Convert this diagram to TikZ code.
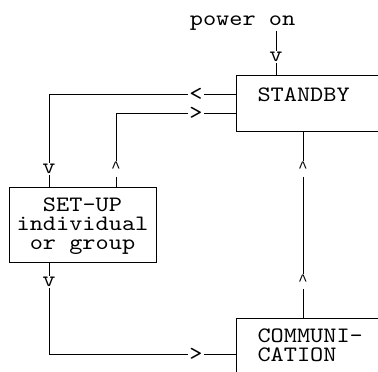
\documentclass[tikz,border=0pt]{standalone}
\usepackage{fontspec}
\usepackage{tikz}
\newfontfamily\asciiface{lmmono10-regular.otf}[FakeStretch=1.14]
\newfontfamily\caretface{Liberation Mono}
\newcommand{\asciifont}{\asciiface\fontsize{22}{18.6}\selectfont}
\newcommand{\caret}{\raisebox{-5pt}[6.5pt][0pt]{\caretface\fontsize{16}{16}\selectfont\textasciicircum}}

\begin{document}
\begin{tikzpicture}[x=1pt, y=-1pt, line width=1pt,
    box/.style={draw, anchor=north west, inner sep=0},
    txt/.style={font=\asciifont, inner sep=0},
    tip/.style={font=\asciifont, inner sep=0, outer sep=1.5pt},
    up/.style={inner sep=0, outer sep=0}]
    \useasboundingbox (0,0) rectangle (378,372);
    \clip (0,0) rectangle (378,372);
    % states
    \node[box, minimum width=200, minimum height=56] (standby) at (236,75) {};
    \node[box, minimum width=147, minimum height=75] (setup) at (9,187) {};
    \node[box, minimum width=200, minimum height=80] (comm) at (236,318) {};
    \node[txt, anchor=base west] (standbylbl) at (257,101) {STANDBY};
    \node[txt, anchor=base, align=center] (setuplbl) at (82.5,249) {SET-UP\\individual\\or group};
    \node[txt, anchor=base west, align=left] (commlbl) at (257,361) {COMMUNI-\\CATION};
    \node[txt, anchor=base] (power) at (242.5,26) {power on};

    % arrow heads
    \node[tip] (pv) at (276,57) {v};
    \node[tip] (lt) at (196,94) {<};
    \node[tip] (gt) at (196,113) {>};
    \node[tip] (lv) at (49,169) {v};
    \node[up] (lc) at (116,164.5) {\caret};
    \node[up] (rc) at (303,164.5) {\caret};
    \node[up] (rc2) at (303,277) {\caret};
    \node[tip] (bv) at (49,282) {v};
    \node[tip] (bgt) at (196,354) {>};

    % lines
    \draw (pv |- power.south) -- (pv);
    \draw (pv) -- (pv |- standby.north);
    \draw (lt -| standby.west) -- (lt);
    \draw (lt) -| (lv);
    \draw (lv) -- (lv |- setup.north);
    \draw[shorten >=9pt] (lc |- setup.north) -- (lc);
    \draw (lc) |- (gt);
    \draw (gt) -- (gt -| standby.west);
    \draw (rc |- standby.south) -- (rc);
    \draw[shorten <=9pt] (rc) -- (rc2);
    \draw[shorten <=9pt] (rc2) -- (rc2 |- comm.north);
    \draw (bv |- setup.south) -- (bv);
    \draw (bv) |- (bgt);
    \draw (bgt) -- (bgt -| comm.west);
\end{tikzpicture}
\end{document}
